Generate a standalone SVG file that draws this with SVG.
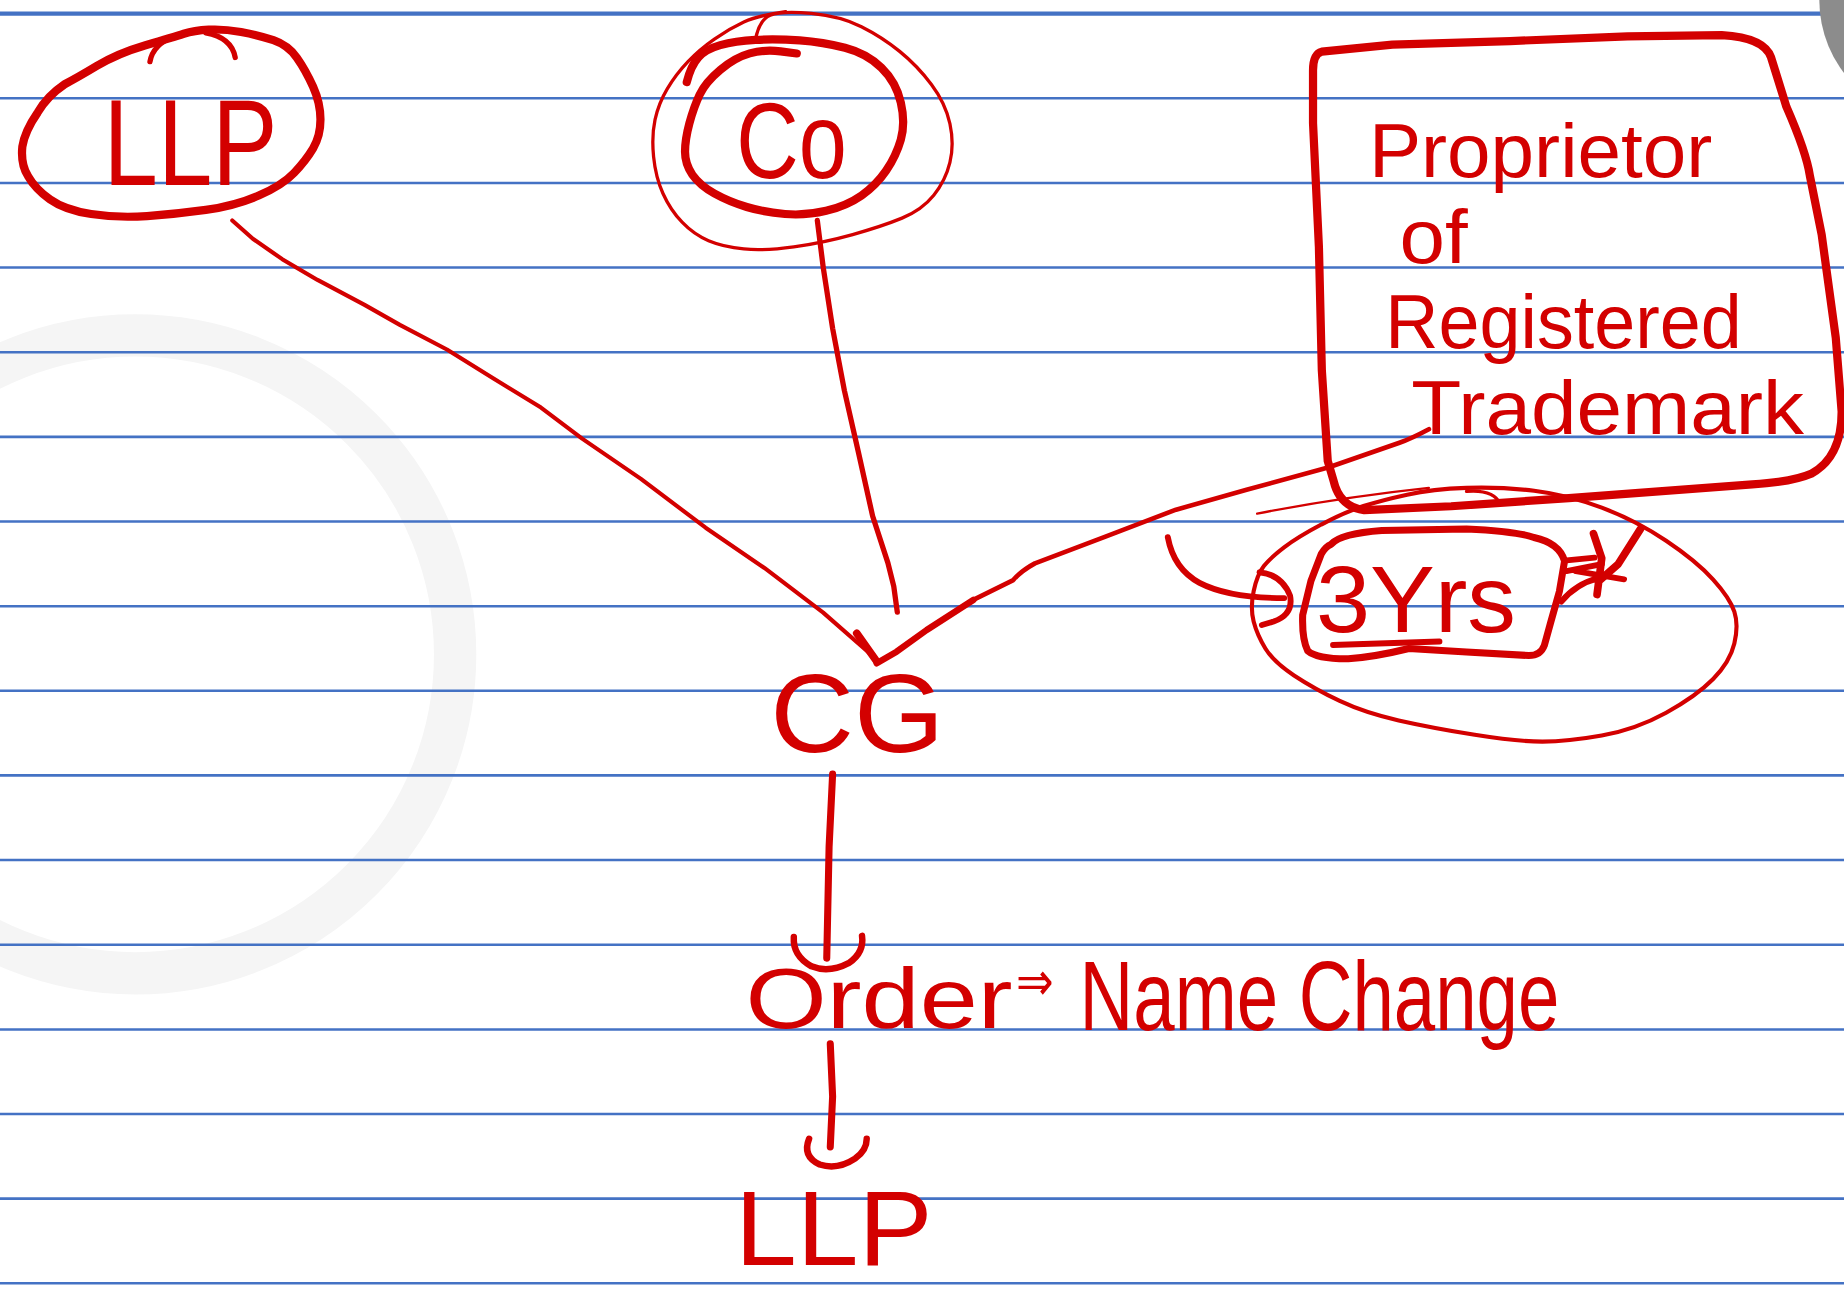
<svg xmlns="http://www.w3.org/2000/svg" width="1844" height="1290" viewBox="0 0 1844 1290">
<style>
.ink{fill:none;stroke:#d30000;stroke-linecap:round;stroke-linejoin:round}
.thick{stroke-width:7}
.med{stroke-width:4.5}
.thin{stroke-width:2.8}
.txt{font-family:"Liberation Sans",Arial,"DejaVu Sans",sans-serif;fill:#d30000}
.rule{stroke:#4472c4;stroke-width:2.2}
</style>
<rect x="0" y="0" width="1844" height="1290" fill="#ffffff"/>
<g transform="scale(1.17602 1.17273)">
  <g id="watermark">
    <circle cx="115" cy="558" r="272" fill="none" stroke="#f5f5f5" stroke-width="36"/>
  </g>
  <g id="rules">
    <line class="rule" x1="0" y1="11.6" x2="1568" y2="11.6" style="stroke-width:3.5"/>
    <line class="rule" x1="0" y1="83.8" x2="1568" y2="83.8"/>
    <line class="rule" x1="0" y1="156" x2="1568" y2="156"/>
    <line class="rule" x1="0" y1="228.1" x2="1568" y2="228.1"/>
    <line class="rule" x1="0" y1="300.3" x2="1568" y2="300.3"/>
    <line class="rule" x1="0" y1="372.5" x2="1568" y2="372.5"/>
    <line class="rule" x1="0" y1="444.7" x2="1568" y2="444.7"/>
    <line class="rule" x1="0" y1="516.9" x2="1568" y2="516.9"/>
    <line class="rule" x1="0" y1="589" x2="1568" y2="589"/>
    <line class="rule" x1="0" y1="661.2" x2="1568" y2="661.2"/>
    <line class="rule" x1="0" y1="733.4" x2="1568" y2="733.4"/>
    <line class="rule" x1="0" y1="805.6" x2="1568" y2="805.6"/>
    <line class="rule" x1="0" y1="877.8" x2="1568" y2="877.8"/>
    <line class="rule" x1="0" y1="949.9" x2="1568" y2="949.9"/>
    <line class="rule" x1="0" y1="1022.1" x2="1568" y2="1022.1"/>
    <line class="rule" x1="0" y1="1094.3" x2="1568" y2="1094.3"/>
  </g>
  <circle cx="1650" cy="0" r="103" fill="#8c8c8c"/>

  <g id="node-llp-top">
    <path class="ink thick" d="M156.25,28.8 Q147.5,31.6 123.75,38.6 Q100,45.6 82.5,56.15 Q65,66.7 55,71.85 Q40,82 32,96 Q21,112 19,125 Q17.5,140 23.75,150 Q30,161 42.5,170 Q55,179 77.5,182.5 Q100,186 125,184.25 Q150,182.5 175,179 Q200,175.5 220,166.75 Q240,158 250,147.5 Q260,137 266.25,126.5 Q272.5,116 272.5,102 Q272.5,88 266.25,74 Q260,60 252.5,49.3 Q245,38.6 232.5,34.3 Q220,30 205,27.3 Q190,24.6 177.5,25.3 Q165,26 156.25,28.8 Z"/>
    <path class="ink med" d="M127.5,52.6 Q130,38 148,31"/>
    <path class="ink med" d="M175,28 Q197,32 200,49"/>
    <text class="txt" x="88" y="158" font-size="105" textLength="148" lengthAdjust="spacingAndGlyphs">LLP</text>
  </g>

  <g id="node-co">
    <path class="ink thin" d="M642,36 Q645,17 655,13 Q665,9 690,11.5 Q715,14 732.5,22.8 Q750,31.6 765,43.8 Q780,56 792,72 Q804,88 807.75,105.5 Q811.5,123 807.75,138.5 Q804,154 794,166.5 Q784,179 767,186 Q750,193 725,200 Q700,207 675,210.5 Q650,214 632.5,212.3 Q615,210.6 602.5,205.3 Q590,200 580,189.5 Q570,179 563.75,165 Q557.5,151 555.75,133.5 Q554,116 557,102 Q560,88 567.5,75.5 Q575,63 585,52.5 Q595,42 607.5,33.3 Q620,24.6 632.5,18.8 Q645,13 668,10"/>
    <path class="ink thick" d="M677.5,45.6 L663.75,43.8 Q650,42 637.5,45.5 Q625,49 612.5,59.5 Q600,70 595,80.5 Q590,91 586.25,105 Q582.5,119 582.5,129.5 Q582.5,140 588.75,149 Q595,158 607.5,165 Q620,172 635,176.5 Q650,181 667.5,182.5 Q685,184 702.5,179.75 Q720,175.5 732.5,166.75 Q745,158 753.5,145.5 Q762,133 766,119 Q770,105 766,87.5 Q762,70 749.5,57.8 Q737,45.6 718.5,40.8 Q700,36 680,34.5 Q660,33 642.5,34 Q625,35 612.5,38.5 Q600,42 593.75,49 Q587.5,56 584,70"/>
    <text class="txt" x="626" y="152" font-size="92" textLength="94" lengthAdjust="spacingAndGlyphs">Co</text>
  </g>

  <g id="node-proprietor">
    <path class="ink thick" d="M1124,44 L1184,38 L1284,35 L1384,31 L1464,30 Q1500,32 1506,49 L1519,91 Q1536,130 1539,150 L1549,200 L1561,288 L1566,351 Q1566,390 1540,404 Q1524,411 1490,413 L1334,424.7 L1234,431.7 L1160,435 Q1139,432 1134,410 L1129,393 L1124,316 L1121.5,210.6 L1116.5,105 L1116.5,60 Q1116.5,46 1124,44 Z"/>
    <text class="txt" font-size="64">
      <tspan x="1164" y="151" textLength="292" lengthAdjust="spacingAndGlyphs">Proprietor</tspan>
      <tspan x="1190" y="224" textLength="58" lengthAdjust="spacingAndGlyphs">of</tspan>
      <tspan x="1178" y="297" textLength="303" lengthAdjust="spacingAndGlyphs">Registered</tspan>
      <tspan x="1200" y="370" textLength="334" lengthAdjust="spacingAndGlyphs">Trademark</tspan>
    </text>
  </g>

  <g id="node-3yrs">
    <path class="ink" style="stroke-width:3.5" d="M1123.5,447.3 Q1143.7,436.6 1159.4,431.5 Q1175,426.5 1196.5,421.8 Q1218,417 1247,416 Q1276,415 1304.5,418.5 Q1333,422 1362,432.9 Q1391,443.8 1416.75,461.1 Q1442.5,478.4 1456.75,494.2 Q1471,510 1474.75,521.5 Q1478.5,533 1474.75,548.75 Q1471,564.5 1456.75,579 Q1442.5,593.5 1416.75,607.75 Q1391,622 1362,627.2 Q1333,632.4 1311.5,632.4 Q1290,632.4 1254,626.6 Q1218,620.8 1189.35,614.35 Q1160.7,607.9 1139.2,597.7 Q1117.7,587.5 1100.35,576 Q1083,564.5 1076,553 Q1069,541.5 1066,530 Q1063,518.5 1066,504.2 Q1069,489.9 1074.7,482.7 Q1080.4,475.5 1091.9,466.75 Q1103.4,458 1123.5,447.3 Z"/>
    <path class="ink" style="stroke-width:2" d="M1069,438 Q1140,424 1215,416"/>
    <path class="ink thin" d="M1247,419 Q1270,417 1276,430"/>
    <path class="ink" style="stroke-width:6" d="M1132,464 Q1140,455 1175,452.4 L1247,451 Q1290,453 1304.4,458.3 Q1326,463 1330.4,478.4 L1326,504.3 L1318.8,530 L1313.2,550.3 Q1310,559 1300,559 L1247,556 L1198,553 Q1170,560 1146.5,561.8 Q1120,562 1112,555 Q1107,545 1107.7,524.4 L1114.7,495.4 L1123.5,472.4 Q1127,466 1132,464 Z"/>
    <path class="ink" style="stroke-width:5" d="M1133.5,550 L1224,547"/>
    <text class="txt" x="1119" y="539" font-size="80" textLength="170" lengthAdjust="spacingAndGlyphs">3Yrs</text>
    <path class="ink" style="stroke-width:5" d="M1330,478 L1356,475.5 M1332,487 L1362,481 M1327.6,513 Q1340,498 1359,493 M1340,487 L1381,494"/>
    <path class="ink" style="stroke-width:6.5" d="M1355,455 L1362,476 L1358,507 M1395,451 L1376,481 L1359,496"/>
  </g>

  <g id="node-cg">
    <text class="txt" x="655" y="641" font-size="95" textLength="148" lengthAdjust="spacingAndGlyphs">CG</text>
  </g>

  <g id="node-order">
    <text class="txt"><tspan x="634" y="877" font-size="72" textLength="227" lengthAdjust="spacingAndGlyphs">Order</tspan> <tspan x="864" y="853" font-size="46" textLength="32" lengthAdjust="spacingAndGlyphs">⇒</tspan> <tspan x="918" y="878" font-size="84" textLength="408" lengthAdjust="spacingAndGlyphs">Name Change</tspan></text>
  </g>

  <g id="node-llp-bottom">
    <text class="txt" x="625" y="1079" font-size="90" textLength="168" lengthAdjust="spacingAndGlyphs">LLP</text>
  </g>

  <g id="connectors">
    <path class="ink" style="stroke-width:3.5" d="M197.5,188 L215,203.6 L240,221 L270,238.7 L310,260 L340,277 L380,298 L420,323 L460,347.5 L495,374 L545,408.3 L600,450 L650,484.3 L700,522.4 L745,562"/>
    <path class="ink" style="stroke-width:6.5" d="M728.5,540 L745.5,564"/>
    <path class="ink" style="stroke-width:4.5" d="M695,188 L700,228 L708,280 L718,333 L730,386 L742,440 L755,480 L760,500 L763,522"/>
    <path class="ink" style="stroke-width:4" d="M1215,366 Q1200,374 1190,377.6 L1130,398.5 L1060,417.6 L1000,434.6 L940,457.6 L880,480.4 Q868,487 861.6,494.6 L827.6,511.6"/>
    <path class="ink" style="stroke-width:5.5" d="M827.6,511.6 L788,537.2 L762.4,555.7 L745.5,565.6"/>
    <path class="ink" style="stroke-width:5" d="M993,458 Q998,485 1020,497 Q1045,510 1092,510"/>
    <path class="ink" style="stroke-width:5" d="M1071,488 Q1090,490 1097,508 Q1100,524 1083,530 L1073,533"/>
    <path class="ink" style="stroke-width:6" d="M708,660 L705,722 L703,817"/>
    <path class="ink" style="stroke-width:5.5" d="M675,799 Q674,815 690,824 Q705,830 722,821 Q735,812 733,798"/>
    <path class="ink" style="stroke-width:6" d="M706,890 L708,935 L706,978"/>
    <path class="ink" style="stroke-width:5.5" d="M688,971 Q682,986 697,993 Q712,998 727,988 Q737,981 737,971"/>
  </g>
</g>
</svg>
